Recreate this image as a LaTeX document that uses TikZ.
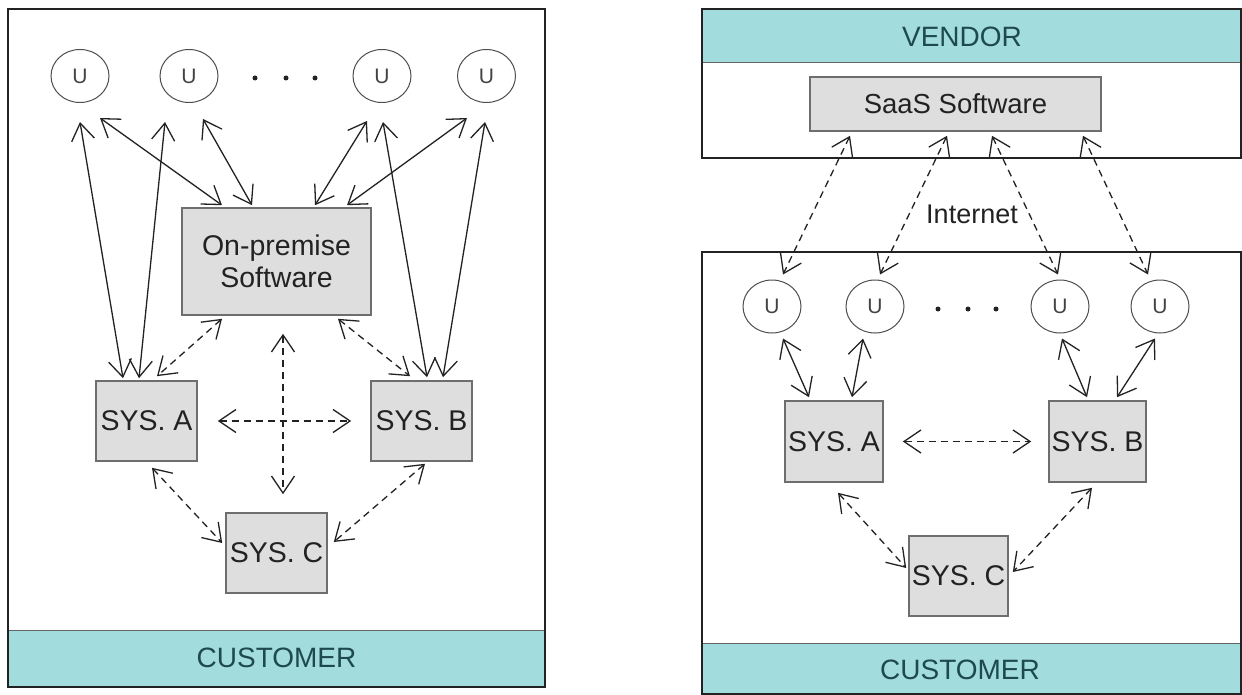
\documentclass[tikz,border=0pt]{standalone}
\usepackage{fontspec}
\setmainfont{Liberation Sans}
\usetikzlibrary{arrows.meta,shapes.geometric,calc}

\definecolor{bandfill}{HTML}{A2DCDC}
\definecolor{bandtext}{HTML}{1E4A4E}
\definecolor{boxfill}{HTML}{DEDEDE}
\definecolor{boxline}{HTML}{6E6E6E}
\definecolor{ink}{HTML}{222222}

\tikzset{
  frame/.style={draw=ink, line width=2.8pt},
  band/.style={draw=ink!70, fill=bandfill, line width=1pt},
  bandlabel/.style={text=bandtext, font=\fontsize{28}{30}\selectfont},
  sysbox/.style={draw=boxline, fill=boxfill, line width=1.6pt, inner sep=0pt,
                 text=ink, align=center, font=\fontsize{28.5}{32}\selectfont},
  user/.style={ellipse, draw=ink!80, line width=1pt, inner sep=0pt,
               minimum width=58pt, minimum height=53pt,
               font=\fontsize{21}{22}\selectfont, text=ink!85},
  biarr/.style={draw=ink, line width=1.3pt,
                {Straight Barb[length=17pt,width=23pt]}-{Straight Barb[length=17pt,width=23pt]}},
  dasharr/.style={biarr, dash pattern=on 7pt off 5pt},
  dot/.style={fill=ink, circle, inner sep=0pt, minimum size=5pt},
  lbl/.style={text=ink, font=\fontsize{27}{29}\selectfont}
}

\begin{document}
\begin{tikzpicture}[x=1pt,y=-1pt]
\useasboundingbox (0,0) rectangle (1242,695);
\fill[white] (0,0) rectangle (1242,695);

% ---------------- on-premise side ----------------
\draw[band] (8,630) rectangle (545,687);
\draw[frame] (8,9) rectangle (545,687);
\node[bandlabel] (custL) at (276.5,658) {CUSTOMER};

\node[user] (u1) at (80,76) {U};
\node[user] (u2) at (189,76) {U};
\node[user] (u3) at (382,76) {U};
\node[user] (u4) at (486.5,76) {U};
\node[dot] (l1) at (255,78) {};
\node[dot] (l2) at (286,78) {};
\node[dot] (l3) at (315,78) {};

\node[sysbox, minimum width=189pt, minimum height=107pt] (op) at (276.5,261.5) {On-premise\\Software};
\node[sysbox, minimum width=101pt, minimum height=80pt] (sa) at (146.5,421) {SYS. A};
\node[sysbox, minimum width=101pt, minimum height=80pt] (sb) at (421.5,421) {SYS. B};
\node[sysbox, minimum width=101pt, minimum height=80pt] (sc) at (276.5,553) {SYS. C};

% users to systems and to the on-premise software
\draw[biarr] ($(u1.south)+(0,19)$) -- ($(sa.north)+(-23.5,-2)$);
\draw[biarr] ($(u2.south)+(-24,19)$) -- ($(sa.north)+(-7.5,-2)$);
\draw[biarr] ($(u1.south)+(20,15)$) -- ($(op.north)+(-54.5,-2)$);
\draw[biarr] ($(u2.south)+(14,16)$) -- ($(op.north)+(-24.5,-2)$);
\draw[biarr] ($(u3.south)+(-15,18)$) -- ($(op.north)+(38.5,-2)$);
\draw[biarr] ($(u4.south)+(-19.5,15)$) -- ($(op.north)+(70.5,-2)$);
\draw[biarr] ($(u3.south)+(1,19)$) -- ($(sb.north)+(5.5,-3)$);
\draw[biarr] ($(u4.south)+(-1.5,19)$) -- ($(sb.north)+(21.5,-3)$);

% system interfaces
\draw[dasharr] ($(op.south)+(-54.5,3)$) -- ($(sa.north)+(10.5,-4)$);
\draw[dasharr] ($(op.south)+(61.5,3)$) -- ($(sb.north)+(-11.5,-4)$);
\draw[dasharr] ($(op.south)+(6.5,18)$) -- ($(sc.north)+(6.5,-18)$);
\draw[dasharr] ($(sa.east)+(20,0)$) -- ($(sb.west)+(-19,0)$);
\draw[dasharr] ($(sa.south)+(5.5,6)$) -- ($(sc.west)+(-3,-10)$);
\draw[dasharr] ($(sb.south)+(3.5,2)$) -- ($(sc.east)+(6,-11)$);

% ---------------- SaaS side ----------------
\draw[band] (702,9) rectangle (1241,63);
\draw[frame] (702,9) rectangle (1241,158);
\node[bandlabel] (vend) at (962,37) {VENDOR};
\node[sysbox, minimum width=291pt, minimum height=54pt, font=\fontsize{27.5}{30}\selectfont] (saas) at (955.5,104) {SaaS Software};

\draw[band] (702,643) rectangle (1241,694);
\draw[frame] (702,252) rectangle (1241,694);
\node[bandlabel] (custR) at (960,670) {CUSTOMER};

\node[user] (r1) at (772,306.5) {U};
\node[user] (r2) at (875,306.5) {U};
\node[user] (r3) at (1060,306.5) {U};
\node[user] (r4) at (1160,306.5) {U};
\node[dot] (rd1) at (938,309) {};
\node[dot] (rd2) at (968,309) {};
\node[dot] (rd3) at (996,309) {};

\node[sysbox, minimum width=98pt, minimum height=81pt] (rsa) at (834,441.5) {SYS. A};
\node[sysbox, minimum width=97pt, minimum height=81pt] (rsb) at (1097.5,441.5) {SYS. B};
\node[sysbox, minimum width=99pt, minimum height=80pt] (rsc) at (958.5,576) {SYS. C};

% internet links from the hosted software to the users
\draw[dasharr] ($(saas.south)+(-105.5,4)$) -- ($(r1.north)+(11,-5)$);
\draw[dasharr] ($(saas.south)+(-8.5,4)$) -- ($(r2.north)+(5,-5)$);
\draw[dasharr] ($(saas.south)+(36.5,4)$) -- ($(r3.north)+(-2,-5)$);
\draw[dasharr] ($(saas.south)+(127.5,4)$) -- ($(r4.north)+(-12,-5)$);
\node[lbl] (net) at (972,214) {Internet};

% users to local systems
\draw[biarr] ($(r1.south)+(11,5)$) -- ($(rsa.north)+(-25,-3)$);
\draw[biarr] ($(r2.south)+(-12,5)$) -- ($(rsa.north)+(18,-3)$);
\draw[biarr] ($(r3.south)+(2,5)$) -- ($(rsb.north)+(-10.5,-3)$);
\draw[biarr] ($(r4.south)+(-5,5)$) -- ($(rsb.north)+(19.5,-3)$);

% local system interfaces
\draw[dasharr] ($(rsa.east)+(19,0)$) -- ($(rsb.west)+(-17,0)$);
\draw[dasharr] ($(rsa.south)+(4,10)$) -- ($(rsc.west)+(-2,-8)$);
\draw[dasharr] ($(rsb.south)+(-5.5,5)$) -- ($(rsc.east)+(4,-4)$);
\end{tikzpicture}
\end{document}
